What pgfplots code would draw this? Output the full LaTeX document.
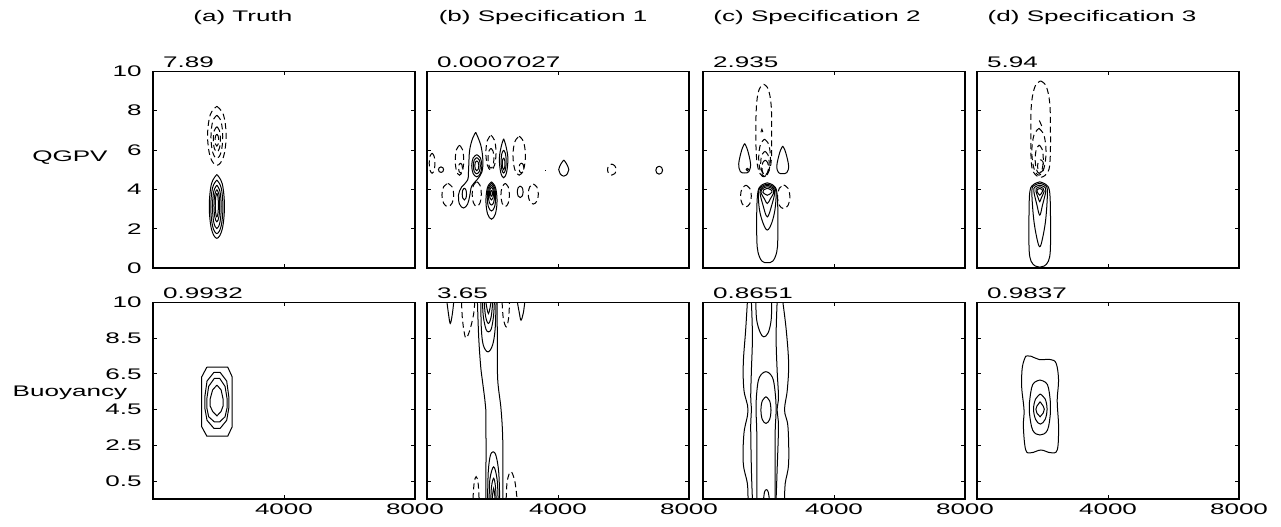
\documentclass[border=0pt]{standalone}
\usepackage{fontspec}
\setmainfont{Liberation Sans}[FakeStretch=1.7]
\usepackage{pgfplots}
\pgfplotsset{compat=1.18}
\newcommand\lf{\fontsize{11.5}{13}\selectfont}
\pgfplotsset{
 pan/.style={anchor=south west, scale only axis, width=196.5pt, height=147.5pt,
   xmin=0, xmax=8000, xtick={4000,8000}, xticklabels={}, yticklabels={},
   tick align=inside, major tick length=3pt,
   axis line style={line width=1.1pt}, every tick/.append style={black, line width=0.6pt},
   tick label style={font=\lf}, yticklabel style={xshift=-5pt}, clip mode=individual},
 toprow/.style={ymin=0, ymax=10, ytick={0,2,4,6,8,10}},
 botrow/.style={ymin=-0.5, ymax=10.5, ytick={0.5,2.5,4.5,6.5,8.5,10.5}, xticklabels={4000,8000}},
 sol/.style={black, line width=0.75pt, no markers, smooth, tension=0.6},
 lin/.style={black, line width=0.75pt, no markers},
 das/.style={sol, dash pattern=on 4.5pt off 2.8pt},
}
\tikzset{numl/.style={anchor=south west, inner sep=0pt, yshift=2.2pt, font=\lf},
 ttl/.style={anchor=base, inner sep=0pt, font=\lf}}
\begin{document}
\begin{tikzpicture}
\useasboundingbox (0,0) rectangle (960.75pt,395.25pt);
% ---------------- (a) top
\begin{axis}[pan, toprow, at={(114.75pt,194.25pt)}, yticklabels={0,2,4,6,8,10}]
\addplot[sol] coordinates {(1950,4.75)(2115,4.28)(2182,3.13)(2115,1.98)(1950,1.51)(1785,1.98)(1718,3.13)(1785,4.28)(1950,4.75)};
\addplot[sol] coordinates {(1950,4.47)(2082,4.08)(2136,3.11)(2082,2.14)(1950,1.75)(1818,2.14)(1764,3.11)(1818,4.08)(1950,4.47)};
\addplot[sol] coordinates {(1950,4.21)(2045,3.89)(2084,3.11)(2045,2.33)(1950,2.01)(1855,2.33)(1816,3.11)(1855,3.89)(1950,4.21)};
\addplot[sol] coordinates {(1950,3.99)(2012,3.75)(2038,3.17)(2012,2.59)(1950,2.35)(1888,2.59)(1862,3.17)(1888,3.75)(1950,3.99)};
\addplot[sol] coordinates {(1950,3.8)(1983,3.63)(1997,3.2)(1983,2.77)(1950,2.6)(1917,2.77)(1903,3.2)(1917,3.63)(1950,3.8)};
\addplot[das] coordinates {(1950,8.22)(2152,7.79)(2234,6.72)(2152,5.65)(1950,5.22)(1748,5.65)(1666,6.72)(1748,7.79)(1950,8.22)};
\addplot[das] coordinates {(1950,7.77)(2078,7.45)(2130,6.67)(2078,5.89)(1950,5.57)(1822,5.89)(1770,6.67)(1822,7.45)(1950,7.77)};
\addplot[das] coordinates {(1950,7.18)(2028,6.99)(2060,6.54)(2028,6.09)(1950,5.9)(1872,6.09)(1840,6.54)(1872,6.99)(1950,7.18)};
\addplot[das] coordinates {(1950,6.8)(1989,6.71)(2005,6.5)(1989,6.29)(1950,6.2)(1911,6.29)(1895,6.5)(1911,6.71)(1950,6.8)};
\node[numl] at (rel axis cs:0.038,1) {7.89};
\node[ttl] at (rel axis cs:0.343,1.254) {(a) Truth};
\node[font=\lf] at (rel axis cs:-0.317,0.563) {QGPV};
\end{axis}
% ---------------- (b) top
\begin{axis}[pan, toprow, at={(320.25pt,194.25pt)}]
\addplot[sol] coordinates {(1488,6.90)(1643,6.24)(1705,5.48)(1674,4.87)(1519,4.47)(1364,4.16)(1302,3.65)(1240,3.25)(1116,3.05)(992,3.25)(961,3.71)(1054,4.11)(1240,4.47)(1271,5.08)(1302,5.99)(1395,6.60)(1488,6.90)};
\addplot[sol] coordinates {(1520,5.76)(1630,5.6)(1675,5.2)(1630,4.8)(1520,4.64)(1410,4.8)(1365,5.2)(1410,5.6)(1520,5.76)};
\addplot[sol] coordinates {(1520,5.61)(1597,5.49)(1628,5.2)(1597,4.91)(1520,4.79)(1443,4.91)(1412,5.2)(1443,5.49)(1520,5.61)};
\addplot[sol] coordinates {(1520,5.45)(1564,5.38)(1582,5.2)(1564,5.02)(1520,4.95)(1476,5.02)(1458,5.2)(1476,5.38)(1520,5.45)};
\addplot[sol] coordinates {(2340,6.57)(2410,6.2)(2470,5.58)(2432,4.88)(2340,4.59)(2248,4.88)(2210,5.58)(2270,6.2)(2340,6.57)};
\addplot[sol] coordinates {(2340,5.99)(2395,5.82)(2418,5.41)(2395,5.0)(2340,4.83)(2285,5.0)(2262,5.41)(2285,5.82)(2340,5.99)};
\addplot[sol] coordinates {(2340,5.6)(2368,5.51)(2380,5.3)(2368,5.09)(2340,5.0)(2312,5.09)(2300,5.3)(2312,5.51)(2340,5.6)};
\addplot[sol] coordinates {(1969,4.38)(2090,4.10)(2139,3.43)(2090,2.76)(1969,2.48)(1848,2.76)(1799,3.43)(1848,4.10)(1969,4.38)};
\addplot[sol] coordinates {(1969,4.3)(2061,4.1)(2099,3.6)(2061,3.1)(1969,2.9)(1877,3.1)(1839,3.6)(1877,4.1)(1969,4.3)};
\addplot[sol] coordinates {(1969,4.2)(2036,4.06)(2064,3.7)(2036,3.34)(1969,3.2)(1902,3.34)(1874,3.7)(1902,4.06)(1969,4.2)};
\addplot[sol] coordinates {(1969,4.1)(2012,4.01)(2029,3.78)(2012,3.55)(1969,3.46)(1926,3.55)(1909,3.78)(1926,4.01)(1969,4.1)};
\addplot[sol] coordinates {(1969,3.95)(1990,3.91)(1999,3.8)(1990,3.69)(1969,3.65)(1948,3.69)(1939,3.8)(1948,3.91)(1969,3.95)};
\addplot[sol] coordinates {(1141,4.06)(1188,3.97)(1207,3.76)(1188,3.55)(1141,3.46)(1094,3.55)(1075,3.76)(1094,3.97)(1141,4.06)};
\addplot[sol] coordinates {(2846,4.16)(2908,4.08)(2934,3.87)(2908,3.66)(2846,3.58)(2784,3.66)(2758,3.87)(2784,4.08)(2846,4.16)};
\addplot[sol] coordinates {(4176,5.49)(4260,5.3)(4331,5.0)(4286,4.79)(4176,4.67)(4066,4.79)(4021,5.0)(4092,5.3)(4176,5.49)};
\addplot[sol] coordinates {(7090,5.17)(7164,5.11)(7194,4.97)(7164,4.83)(7090,4.77)(7016,4.83)(6986,4.97)(7016,5.11)(7090,5.17)};
\addplot[sol] coordinates {(428,5.14)(483,5.1)(506,5.0)(483,4.9)(428,4.86)(373,4.9)(350,5.0)(373,5.1)(428,5.14)};
\addplot[lin] coordinates {(3610,4.97)(3640,4.97)};
\addplot[das] coordinates {(155,5.84)(217,5.69)(243,5.33)(217,4.97)(155,4.82)(93,4.97)(67,5.33)(93,5.69)(155,5.84)};
\addplot[das] coordinates {(992,6.24)(1084,6.02)(1122,5.48)(1084,4.94)(992,4.72)(900,4.94)(862,5.48)(900,6.02)(992,6.24)};
\addplot[das] coordinates {(1023,5.33)(1066,5.26)(1083,5.08)(1066,4.9)(1023,4.83)(980,4.9)(963,5.08)(980,5.26)(1023,5.33)};
\addplot[das] coordinates {(1953,6.75)(2063,6.49)(2108,5.86)(2063,5.23)(1953,4.97)(1843,5.23)(1798,5.86)(1843,6.49)(1953,6.75)};
\addplot[das] coordinates {(1953,6.08)(2017,5.94)(2043,5.58)(2017,5.22)(1953,5.08)(1889,5.22)(1863,5.58)(1889,5.94)(1953,6.08)};
\addplot[das] coordinates {(2815,6.7)(2950,6.41)(3005,5.71)(2950,5.01)(2815,4.72)(2680,5.01)(2625,5.71)(2680,6.41)(2815,6.7)};
\addplot[das] coordinates {(2883,5.33)(2936,5.26)(2958,5.08)(2936,4.9)(2883,4.83)(2830,4.9)(2808,5.08)(2830,5.26)(2883,5.33)};
\addplot[das] coordinates {(636,4.3)(764,4.13)(816,3.71)(764,3.29)(636,3.12)(508,3.29)(456,3.71)(508,4.13)(636,4.3)};
\addplot[das] coordinates {(1519,4.39)(1618,4.21)(1659,3.76)(1618,3.31)(1519,3.13)(1420,3.31)(1379,3.76)(1420,4.21)(1519,4.39)};
\addplot[das] coordinates {(2387,4.3)(2479,4.13)(2517,3.71)(2479,3.29)(2387,3.12)(2295,3.29)(2257,3.71)(2295,4.13)(2387,4.3)};
\addplot[das] coordinates {(3245,4.27)(3355,4.12)(3400,3.76)(3355,3.4)(3245,3.25)(3135,3.4)(3090,3.76)(3135,4.12)(3245,4.27)};
\addplot[das] coordinates {(5642,5.28)(5734,5.2)(5772,5.0)(5734,4.8)(5642,4.72)(5550,4.8)(5512,5.0)(5550,5.2)(5642,5.28)};
\node[numl] at (rel axis cs:0.038,1) {0.0007027};
\node[ttl] at (rel axis cs:0.443,1.254) {(b) Specification 1};
\end{axis}
% ---------------- (c) top
\begin{axis}[pan, toprow, at={(527.25pt,194.25pt)}]
\addplot[das] coordinates {(1854,9.34)(1990,9.1)(2080,8.3)(2097,6.99)(2090,5.6)(2030,5.0)(1900,4.64)(1740,4.8)(1640,5.5)(1611,6.99)(1640,8.4)(1720,9.1)(1854,9.34)};
\addplot[das] coordinates {(1770,6.9)(1798,7.05)(1826,6.9)};
\addplot[das] coordinates {(1880,6.55)(2008,6.27)(2060,5.6)(2008,4.93)(1880,4.65)(1752,4.93)(1700,5.6)(1752,6.27)(1880,6.55)};
\addplot[das] coordinates {(1891,5.93)(1983,5.76)(2021,5.33)(1983,4.9)(1891,4.73)(1799,4.9)(1761,5.33)(1799,5.76)(1891,5.93)};
\addplot[das] coordinates {(1900,5.48)(1971,5.37)(2000,5.1)(1971,4.83)(1900,4.72)(1829,4.83)(1800,5.1)(1829,5.37)(1900,5.48)};
\addplot[sol] coordinates {(1271,6.33)(1360,6.0)(1451,5.3)(1400,4.9)(1271,4.83)(1142,4.9)(1091,5.3)(1182,6.0)(1271,6.33)};
\addplot[sol] coordinates {(1354,5.08)(1390,5.01)(1354,4.94)(1318,5.01)(1354,5.08)};
\addplot[sol] coordinates {(2434,6.2)(2520,5.9)(2614,5.2)(2560,4.85)(2434,4.8)(2308,4.85)(2254,5.2)(2348,5.9)(2434,6.2)};
\addplot[sol] coordinates {(1963,4.33)(2150,4.2)(2250,3.9)(2284,3.0)(2284,1.5)(2250,0.8)(2130,0.35)(1963,0.27)(1800,0.35)(1680,0.8)(1643,1.5)(1643,3.0)(1680,3.9)(1780,4.2)(1963,4.33)};
\addplot[sol] coordinates {(1963,4.26)(2140,4.15)(2230,3.85)(2200,3.0)(2100,2.3)(1963,1.93)(1830,2.3)(1720,3.0)(1695,3.85)(1790,4.15)(1963,4.26)};
\addplot[sol] coordinates {(1963,4.2)(2120,4.1)(2190,3.85)(2100,3.2)(1963,2.6)(1830,3.2)(1740,3.85)(1810,4.1)(1963,4.2)};
\addplot[sol] coordinates {(1963,4.13)(2100,4.05)(2160,3.85)(2050,3.5)(1963,3.28)(1880,3.5)(1770,3.85)(1830,4.05)(1963,4.13)};
\addplot[sol] coordinates {(1963,4.05)(2080,3.97)(2100,3.85)(1963,3.7)(1830,3.85)(1850,3.97)(1963,4.05)};
\addplot[das] coordinates {(1311,4.21)(1428,4.05)(1476,3.66)(1428,3.27)(1311,3.11)(1194,3.27)(1146,3.66)(1194,4.05)(1311,4.21)};
\addplot[das] coordinates {(2464,4.22)(2599,4.05)(2654,3.62)(2599,3.19)(2464,3.02)(2329,3.19)(2274,3.62)(2329,4.05)(2464,4.22)};
\node[numl] at (rel axis cs:0.038,1) {2.935};
\node[ttl] at (rel axis cs:0.435,1.254) {(c) Specification 2};
\end{axis}
% ---------------- (d) top
\begin{axis}[pan, toprow, at={(732.75pt,194.25pt)}]
\addplot[das] coordinates {(1943,9.51)(2110,9.25)(2220,8.4)(2243,7.06)(2235,5.6)(2170,4.9)(1943,4.61)(1716,4.9)(1651,5.6)(1643,7.06)(1666,8.4)(1776,9.25)(1943,9.51)};
\addplot[das] coordinates {(1900,7.5)(1943,7.35)(1980,7.2)};
\addplot[das] coordinates {(1891,7.1)(2045,6.75)(2108,5.91)(2045,5.07)(1891,4.72)(1737,5.07)(1674,5.91)(1737,6.75)(1891,7.1)};
\addplot[das] coordinates {(1900,6.25)(1988,6.04)(2024,5.53)(1988,5.02)(1900,4.81)(1812,5.02)(1776,5.53)(1812,6.04)(1900,6.25)};
\addplot[das] coordinates {(1943,5.5)(2009,5.41)(2036,5.18)(2009,4.95)(1943,4.86)(1877,4.95)(1850,5.18)(1877,5.41)(1943,5.5)};
\addplot[sol] coordinates {(1916,4.38)(2100,4.25)(2210,3.95)(2241,3.0)(2241,1.0)(2180,0.35)(2050,0.1)(1916,0.04)(1780,0.1)(1650,0.35)(1590,1.0)(1590,3.0)(1620,3.95)(1730,4.25)(1916,4.38)};
\addplot[sol] coordinates {(1916,4.3)(2080,4.2)(2150,3.9)(2100,2.5)(2000,1.5)(1916,1.08)(1830,1.5)(1730,2.5)(1675,3.9)(1750,4.2)(1916,4.3)};
\addplot[sol] coordinates {(1916,4.21)(2060,4.12)(2100,3.9)(2000,3.2)(1916,2.69)(1830,3.2)(1735,3.9)(1770,4.12)(1916,4.21)};
\addplot[sol] coordinates {(1916,4.13)(2020,4.05)(2050,3.9)(1960,3.55)(1916,3.37)(1870,3.55)(1800,3.9)(1810,4.05)(1916,4.13)};
\addplot[sol] coordinates {(1916,4.05)(1990,3.98)(2000,3.9)(1916,3.7)(1830,3.9)(1840,3.98)(1916,4.05)};
\node[numl] at (rel axis cs:0.038,1) {5.94};
\node[ttl] at (rel axis cs:0.439,1.254) {(d) Specification 3};
\end{axis}
% ---------------- (a) bottom
\begin{axis}[pan, botrow, at={(114.75pt,21pt)}, yticklabels={0.5,2.5,4.5,6.5,8.5,10}]
\addplot[lin] coordinates {(1643,6.87)(2284,6.87)(2418,6.33)(2418,3.54)(2284,3.02)(1643,3.02)(1488,3.54)(1488,6.33)(1643,6.87)};
\addplot[lin] coordinates {(1860,6.58)(2050,6.58)(2250,6.1)(2316,5.2)(2316,4.6)(2250,3.9)(2050,3.45)(1860,3.45)(1650,3.9)(1581,4.6)(1581,5.2)(1650,6.1)(1860,6.58)};
\addplot[lin] coordinates {(1870,6.24)(2040,6.24)(2200,5.8)(2263,5.1)(2263,4.6)(2200,4.1)(2040,3.82)(1870,3.82)(1700,4.1)(1643,4.6)(1643,5.1)(1700,5.8)(1870,6.24)};
\addplot[lin] coordinates {(1953,5.87)(2080,5.6)(2139,5.1)(2139,4.7)(2080,4.4)(1953,4.15)(1820,4.4)(1746,4.7)(1746,5.1)(1820,5.6)(1953,5.87)};
\node[numl] at (rel axis cs:0.038,1) {0.9932};
\node[font=\lf] at (rel axis cs:-0.317,0.541) {Buoyancy};
\end{axis}
% ---------------- (b) bottom
\begin{axis}[pan, botrow, at={(320.25pt,21pt)}]
\addplot[sol] coordinates {(1540,10.5)(1580,8.5)(1640,6.9)(1700,6.0)(1780,4.8)(1800,3.8)(1800,-0.5)};
\addplot[sol] coordinates {(2139,10.5)(2150,8.0)(2160,6.15)(2263,4.47)(2315,2.63)(2315,-0.5)};
\addplot[sol] coordinates {(1643,10.5)(1660,9)(1720,8.1)(1860,7.73)(2000,8.1)(2080,9)(2108,10.5)};
\addplot[sol] coordinates {(1695,10.5)(1720,9.7)(1800,9.0)(1876,8.85)(1960,9.0)(2030,9.7)(2056,10.5)};
\addplot[sol] coordinates {(1747,10.5)(1790,9.7)(1876,9.32)(1960,9.7)(2005,10.5)};
\addplot[sol] coordinates {(1798,10.5)(1876,9.87)(1953,10.5)};
\addplot[sol] coordinates {(1850,-0.5)(1870,1.0)(1930,1.9)(2020,2.14)(2110,1.9)(2190,1.0)(2220,-0.5)};
\addplot[sol] coordinates {(1900,-0.5)(1920,0.6)(2035,1.3)(2140,0.6)(2170,-0.5)};
\addplot[sol] coordinates {(1950,-0.5)(1970,0.2)(2035,0.66)(2090,0.2)(2110,-0.5)};
\addplot[sol] coordinates {(1990,-0.5)(2035,0.1)(2080,-0.5)};
\addplot[sol] coordinates {(610,10.5)(660,9.8)(710,9.32)(770,9.8)(815,10.5)};
\addplot[sol] coordinates {(2760,10.5)(2820,9.9)(2870,9.5)(2940,9.9)(2985,10.5)};
\addplot[das] coordinates {(1054,10.5)(1080,9.6)(1130,8.9)(1190,8.5)(1300,8.9)(1420,9.8)(1457,10.5)};
\addplot[das] coordinates {(2294,10.5)(2330,9.6)(2420,9.13)(2490,9.6)(2520,10.5)};
\addplot[das] coordinates {(1404,-0.5)(1440,0.4)(1500,0.75)(1560,0.4)(1590,-0.5)};
\addplot[das] coordinates {(2418,-0.5)(2450,0.5)(2560,1.03)(2680,0.5)(2750,-0.5)};
\node[numl] at (rel axis cs:0.038,1) {3.65};
\end{axis}
% ---------------- (c) bottom
\begin{axis}[pan, botrow, at={(527.25pt,21pt)}]
\addplot[sol] coordinates {(1354,10.5)(1302,8.94)(1230,7.08)(1250,5.59)(1374,4.47)(1250,3.17)(1230,1.49)(1354,0.38)(1374,-0.5)};
\addplot[sol] coordinates {(1478,10.5)(1509,8.57)(1478,6.71)(1457,5.22)(1478,4.47)(1457,3.54)(1478,1.12)(1509,-0.5)};
\addplot[sol] coordinates {(2263,10.5)(2232,8.57)(2263,6.71)(2304,5.22)(2263,4.47)(2304,3.54)(2263,1.12)(2232,-0.5)};
\addplot[sol] coordinates {(2439,10.5)(2542,8.94)(2614,7.08)(2573,5.59)(2490,4.47)(2594,3.54)(2614,1.49)(2511,0.38)(2490,-0.5)};
\addplot[sol] coordinates {(1612,10.5)(1640,9.5)(1750,8.8)(1860,8.57)(1990,8.8)(2080,9.5)(2098,10.5)};
\addplot[sol] coordinates {(1643,-0.5)(1643,3.0)(1620,4.47)(1643,5.5)(1720,6.3)(1922,6.62)(2120,6.3)(2201,5.5)(2232,4.47)(2201,3.0)(2201,-0.5)};
\addplot[sol] coordinates {(1922,5.22)(2032,5.0)(2077,4.47)(2032,3.94)(1922,3.73)(1812,3.94)(1767,4.47)(1812,5.0)(1922,5.22)};
\addplot[sol] coordinates {(1850,-0.5)(1880,-0.1)(1936,0.02)(1990,-0.1)(2025,-0.5)};
\node[numl] at (rel axis cs:0.038,1) {0.8651};
\end{axis}
% ---------------- (d) bottom
\begin{axis}[pan, botrow, at={(732.75pt,21pt)}]
\addplot[sol] coordinates {(1488,7.49)(1643,7.49)(1901,7.30)(2242,7.30)(2418,7.08)(2490,6.15)(2449,5.0)(2490,3.54)(2449,2.24)(2242,2.09)(1953,2.24)(1664,2.09)(1488,2.24)(1416,3.54)(1436,4.47)(1364,5.78)(1385,6.89)(1488,7.49)};
\addplot[sol] coordinates {(1922,6.15)(2150,5.9)(2242,4.9)(2242,4.3)(2150,3.35)(1922,3.08)(1700,3.35)(1602,4.3)(1602,4.9)(1700,5.9)(1922,6.15)};
\addplot[sol] coordinates {(1932,5.37)(2080,5.1)(2139,4.53)(2080,3.95)(1932,3.69)(1790,3.95)(1726,4.53)(1790,5.1)(1932,5.37)};
\addplot[lin] coordinates {(1927,4.94)(2020,4.7)(2056,4.52)(2020,4.3)(1927,4.10)(1830,4.3)(1798,4.52)(1830,4.7)(1927,4.94)};
\node[numl] at (rel axis cs:0.038,1) {0.9837};
\end{axis}
\end{tikzpicture}
\end{document}
